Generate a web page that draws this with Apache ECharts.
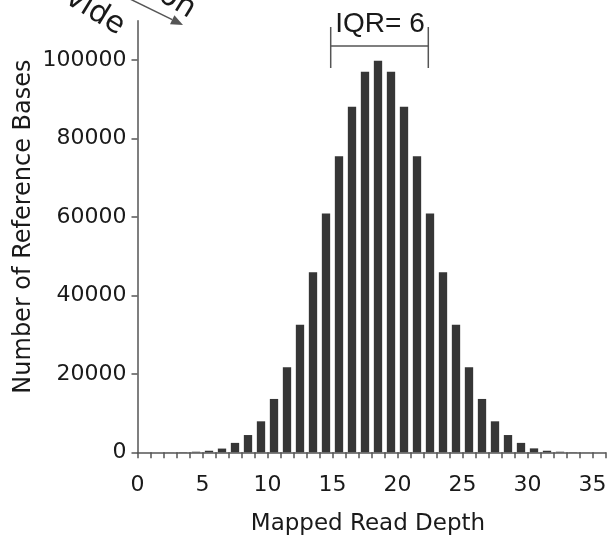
<!DOCTYPE html>
<html>
<head>
<meta charset="utf-8">
<script src="https://cdn.jsdelivr.net/npm/echarts@6/dist/echarts.min.js"></script>
<style>
  html, body { margin: 0; padding: 0; background: #fff; }
  #chart { width: 609px; height: 537px; }
</style>
</head>
<body>
<div id="chart"></div>
<script>
// Histogram bins: depth 0..35, one bar per bin
const depthBins = [0, 1, 2, 3, 4, 5, 6, 7, 8, 9, 10, 11, 12, 13, 14, 15, 16, 17,
  18, 19, 20, 21, 22, 23, 24, 25, 26, 27, 28, 29, 30, 31, 32, 33, 34, 35];
const baseCounts = [0, 0, 20, 60, 150, 400, 950, 2400, 4400, 7900, 13600, 21700,
  32500, 45900, 60900, 75500, 88100, 97000, 99800, 97000, 88100, 75500, 60900,
  45900, 32500, 21700, 13600, 7900, 4400, 2400, 1000, 400, 150, 60, 20, 0];

// Axis ticks and labels
const xTickValues = [0, 1, 2, 3, 4, 5, 6, 7, 8, 9, 10, 11, 12, 13, 14, 15, 16, 17,
  18, 19, 20, 21, 22, 23, 24, 25, 26, 27, 28, 29, 30, 31, 32, 33, 34, 35, 36];
const xLabelValues = [0, 5, 10, 15, 20, 25, 30, 35];
const yTickValues = [0, 20000, 40000, 60000, 80000, 100000];

const axisColor = '#555';
const textColor = '#1a1a1a';
const axisFont = 'DejaVu Sans';

const chart = echarts.init(document.getElementById('chart'));

const option = {
  backgroundColor: '#fff',
  animation: false,
  grid: { left: 137.5, right: 3.5, top: 20.8, bottom: 84.7, outerBoundsMode: 'none', containLabel: false },

  xAxis: [
    {
      // hidden band axis, one band per bin, so bars sit between integer ticks
      type: 'category',
      data: depthBins,
      boundaryGap: true,
      show: false
    },
    {
      type: 'value',
      min: 0,
      max: 36,
      position: 'bottom',
      name: 'Mapped Read Depth',
      nameLocation: 'middle',
      nameGap: 60,
      nameMoveOverlap: false,
      nameTextStyle: { color: textColor, fontSize: 23, fontFamily: axisFont, padding: [0, 7, 0, 0] },
      axisLine: { show: true, lineStyle: { color: axisColor, width: 1.5 } },
      axisTick: { show: true, length: 6, customValues: xTickValues, lineStyle: { color: axisColor, width: 1.5 } },
      axisLabel: { customValues: xLabelValues, color: textColor, fontSize: 22, fontFamily: axisFont, margin: 22 },
      splitLine: { show: false }
    }
  ],

  yAxis: {
    type: 'value',
    min: 0,
    max: 110000,
    name: 'Number of Reference Bases',
    nameLocation: 'middle',
    nameGap: 102,
    nameMoveOverlap: false,
    nameTextStyle: { color: textColor, fontSize: 24, fontFamily: axisFont, padding: [0, 0, 0, 20] },
    axisLine: { show: true, lineStyle: { color: axisColor, width: 1.5 } },
    axisTick: { show: true, length: 6, customValues: yTickValues, lineStyle: { color: axisColor, width: 1.5 } },
    axisLabel: {
      customValues: yTickValues,
      formatter: v => String(v),
      color: textColor, fontSize: 22, fontFamily: axisFont, margin: 11
    },
    splitLine: { show: false }
  },

  series: [
    {
      type: 'bar',
      xAxisIndex: 0,
      data: baseCounts,
      barWidth: '64%',
      itemStyle: { color: '#363636' }
    }
  ],

  graphic: [
    // IQR bracket above the peak
    { type: 'line', shape: { x1: 330.7, y1: 46, x2: 428.3, y2: 46 }, style: { stroke: axisColor, lineWidth: 1.5 } },
    { type: 'line', shape: { x1: 330.7, y1: 27, x2: 330.7, y2: 68 }, style: { stroke: axisColor, lineWidth: 1.5 } },
    { type: 'line', shape: { x1: 428.3, y1: 27, x2: 428.3, y2: 68 }, style: { stroke: axisColor, lineWidth: 1.5 } },
    {
      type: 'text', x: 380, y: 24,
      style: { text: 'IQR= 6', fill: textColor, font: '28px "Liberation Sans"', textAlign: 'center', textVerticalAlign: 'middle' }
    },

    // cut-off annotation from the top-left corner
    {
      type: 'text', x: 95, y: 12, rotation: -0.55,
      style: { text: 'vide', fill: textColor, font: '30px "DejaVu Sans"', textAlign: 'center', textVerticalAlign: 'middle' }
    },
    {
      type: 'text', x: 177, y: 2, rotation: -0.55,
      style: { text: 'on', fill: textColor, font: '30px "DejaVu Sans"', textAlign: 'center', textVerticalAlign: 'middle' }
    },
    { type: 'line', shape: { x1: 128, y1: -2, x2: 172.2, y2: 19.7 }, style: { stroke: axisColor, lineWidth: 1.5 } },
    { type: 'polygon', shape: { points: [[183, 25], [170.0, 24.2], [174.4, 15.2]] }, style: { fill: axisColor } }
  ]
};

chart.setOption(option);
</script>
</body>
</html>
